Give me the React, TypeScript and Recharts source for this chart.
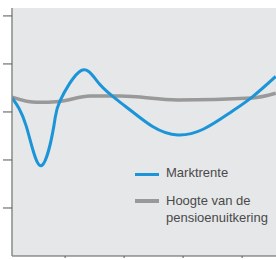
import React from "react";
import { LineChart, Line, XAxis, YAxis, CartesianGrid } from "recharts";

// x = tijd (willekeurige eenheden), y = niveau
const marktrenteX = [0, 0.24, 0.49, 0.71, 0.81, 1.17, 1.49, 1.92, 2.39, 2.81, 3.24, 3.69, 4.07, 4.47];
const marktrenteY = [3.29, 2.71, 1.88, 2.71, 3.22, 3.86, 3.57, 3.12, 2.69, 2.52, 2.64, 2.98, 3.31, 3.74];

const uitkeringX = [0, 0.42, 0.81, 1.32, 1.83, 2.81, 4.07, 4.47];
const uitkeringY = [3.31, 3.2, 3.22, 3.33, 3.33, 3.25, 3.29, 3.39];

const xTicks = [0.9, 1.9, 2.9, 3.9];
const yTicks = [1, 2, 3, 4, 5];

const labels = ["Marktrente", "Hoogte van de", "pensioenuitkering"];

const BLUE = "#1b95d8";
const GRAY = "#999999";

const marktrente = marktrenteX.map((x, i) => ({ x, y: marktrenteY[i] }));
const uitkering = uitkeringX.map((x, i) => ({ x, y: uitkeringY[i] }));

const noLabel = () => "";

export default function App() {
  return (
    <div style={{ position: "absolute", left: 0, top: 0, width: 276, height: 260, fontFamily: "'Liberation Sans', Arial, sans-serif" }}>
      <LineChart width={276} height={260} margin={{ top: 8, right: 0, left: 0, bottom: 2 }}>
        <CartesianGrid fill="#e6e7e9" horizontal={false} vertical={false} />
        <XAxis
          type="number"
          dataKey="x"
          domain={[0, 4.475]}
          ticks={xTicks}
          height={2}
          tickSize={2}
          tickFormatter={noLabel}
          axisLine={{ stroke: "#5a5a5a", strokeWidth: 1 }}
          tickLine={{ stroke: "#5a5a5a" }}
          allowDataOverflow
        />
        <YAxis
          type="number"
          dataKey="y"
          domain={[0, 5.165]}
          ticks={yTicks}
          width={12}
          tickSize={9}
          tickFormatter={noLabel}
          axisLine={{ stroke: "#8a8a8a", strokeWidth: 1.5 }}
          tickLine={{ stroke: "#555555" }}
          allowDataOverflow
        />
        <Line data={uitkering} dataKey="y" type="monotone" stroke={GRAY} strokeWidth={3.5} dot={false} isAnimationActive={false} />
        <Line data={marktrente} dataKey="y" type="natural" stroke={BLUE} strokeWidth={3} dot={false} isAnimationActive={false} />
      </LineChart>

      <div style={{ position: "absolute", left: 135, top: 172.8, width: 24, height: 3, background: BLUE }} />
      <div style={{ position: "absolute", left: 166, top: 164, fontSize: 13, lineHeight: "17px", color: "#4a4a4a", whiteSpace: "nowrap" }}>
        {labels[0]}
      </div>
      <div style={{ position: "absolute", left: 135, top: 199.3, width: 24, height: 3.5, background: GRAY }} />
      <div style={{ position: "absolute", left: 166, top: 192, fontSize: 13, lineHeight: "17px", color: "#4a4a4a", whiteSpace: "nowrap" }}>
        {labels[1]}
        <br />
        {labels[2]}
      </div>
    </div>
  );
}
